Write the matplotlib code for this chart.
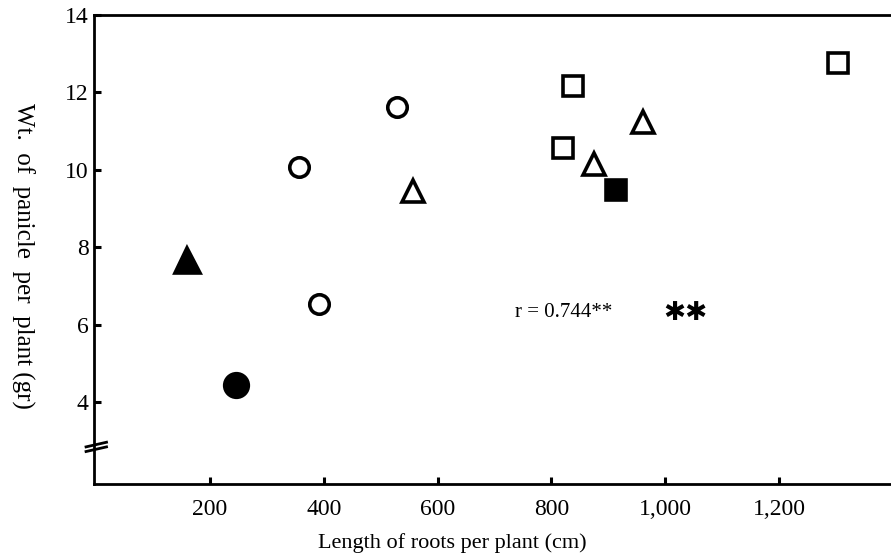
import matplotlib
matplotlib.use("Agg")
import matplotlib.pyplot as plt

# values
open_circle_x = [357, 392, 529]
open_circle_y = [10.07, 6.53, 11.62]
filled_circle_x = [246]
filled_circle_y = [4.44]
open_triangle_x = [557, 875, 961]
open_triangle_y = [9.45, 10.15, 11.24]
filled_triangle_x = [160]
filled_triangle_y = [7.67]
open_square_x = [821, 838, 1304]
open_square_y = [10.56, 12.17, 12.76]
filled_square_x = [914]
filled_square_y = [9.48]

x_ticks = [200, 400, 600, 800, 1000, 1200]
x_tick_labels = ["200", "400", "600", "800", "1,000", "1,200"]
y_ticks = [4, 6, 8, 10, 12, 14]
y_tick_labels = ["4", "6", "8", "10", "12", "14"]

r_label = "r = 0.744**"

plt.rcParams['font.family'] = ['Liberation Serif', 'DejaVu Serif']

fig = plt.figure(figsize=(8.91, 5.57), dpi=100)
ax = fig.add_axes([0.1055, 0.131, 0.8945, 0.842])

mk = dict(linestyle='none', markeredgecolor='black', markeredgewidth=2.6, clip_on=False)
ax.plot(open_circle_x, open_circle_y, 'o', markersize=14, markerfacecolor='white', **mk)
ax.plot(filled_circle_x, filled_circle_y, 'o', markersize=17, markerfacecolor='black', **mk)
ax.plot(open_triangle_x, open_triangle_y, '^', markersize=16, markerfacecolor='white', **mk)
ax.plot(filled_triangle_x, filled_triangle_y, '^', markersize=18, markerfacecolor='black', **mk)
ax.plot(open_square_x, open_square_y, 's', markersize=14, markerfacecolor='white', **mk)
ax.plot(filled_square_x, filled_square_y, 's', markersize=15, markerfacecolor='black', **mk)

ax.text(736, 6.3, r_label, fontsize=15, ha='left', va='center')
ax.text(997, 6.3, "\u2731\u2731", fontsize=19, ha='left', va='center',
        family=['DejaVu Sans'])

ax.set_xlim(-4, 1397)
ax.set_ylim(1.88, 14)
ax.set_xticks(x_ticks)
ax.set_xticklabels(x_tick_labels)
ax.set_yticks(y_ticks)
ax.set_yticklabels(y_tick_labels)
ax.tick_params(direction='in', length=5, width=2.2, labelsize=17, color='black')
ax.tick_params(axis='x', pad=11)
ax.tick_params(axis='y', pad=4)

ax.spines['right'].set_visible(False)
for s in ['left', 'top', 'bottom']:
    ax.spines[s].set_linewidth(2)

# axis break marks on the y axis
for dy in (0.0, 0.12):
    ax.plot([-18, 18], [2.72 + dy, 2.84 + dy], color='black', lw=2, clip_on=False)

fig.text(0.025, 0.54, "Wt.  of  panicle  per  plant (gr)", rotation=270,
         fontsize=18, ha='center', va='center')
fig.text(0.508, 0.025, "Length of roots per plant (cm)", fontsize=16,
         ha='center', va='center')

fig.savefig("out.png", dpi=100)
